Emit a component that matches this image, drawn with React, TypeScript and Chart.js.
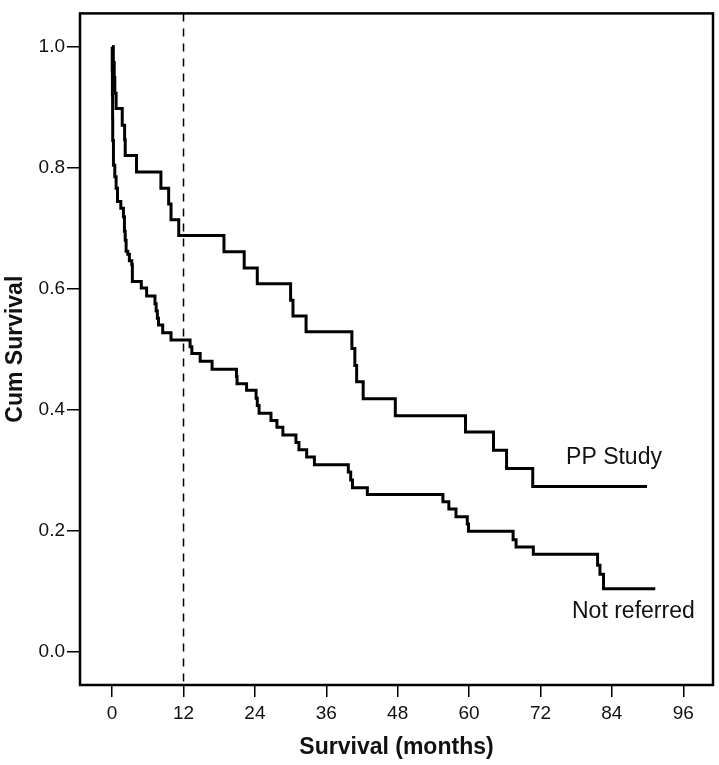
import React, { useEffect, useRef } from 'react';
import { Chart, registerables } from 'chart.js';

Chart.register(...registerables);

// Kaplan-Meier estimates
const ppMonths = [0, 0.2, 0.35, 0.45, 0.67, 1.7, 2.1, 2.2, 4.1, 8.2, 9.5, 9.9, 11.2, 18.8, 22.2, 24.4, 30.0, 30.4, 32.6, 40.3, 40.8, 41.1, 42.2, 47.6, 59.4, 64.1, 66.3, 70.7, 89.9];
const ppSurvival = [1.0, 0.974, 0.949, 0.923, 0.898, 0.870, 0.846, 0.820, 0.793, 0.766, 0.740, 0.714, 0.688, 0.661, 0.634, 0.608, 0.581, 0.555, 0.529, 0.501, 0.473, 0.446, 0.418, 0.390, 0.363, 0.333, 0.303, 0.273, 0.273];

const nrMonths = [0, 0.02, 0.05, 0.08, 0.1, 0.22, 0.45, 0.67, 0.9, 1.46, 1.9, 2.07, 2.2, 2.35, 2.63, 2.9, 3.3, 3.4, 4.9, 5.8, 7.2, 7.4, 7.6, 7.8, 8.5, 9.9, 13.1, 13.4, 14.8, 16.8, 20.9, 21.0, 22.6, 24.2, 24.4, 24.7, 26.7, 27.7, 28.7, 30.9, 31.4, 32.7, 34.0, 39.7, 40.1, 40.4, 42.9, 55.6, 56.6, 57.8, 59.7, 59.9, 67.4, 67.9, 70.8, 81.6, 82.0, 82.6, 91.3];
const nrSurvival = [1.0, 0.96, 0.92, 0.88, 0.845, 0.804, 0.785, 0.766, 0.744, 0.733, 0.719, 0.695, 0.68, 0.662, 0.657, 0.646, 0.640, 0.612, 0.601, 0.588, 0.575, 0.563, 0.551, 0.540, 0.527, 0.515, 0.504, 0.493, 0.480, 0.467, 0.455, 0.443, 0.432, 0.419, 0.407, 0.394, 0.382, 0.371, 0.358, 0.346, 0.334, 0.322, 0.309, 0.297, 0.284, 0.271, 0.260, 0.248, 0.236, 0.223, 0.211, 0.199, 0.185, 0.173, 0.161, 0.143, 0.128, 0.104, 0.104];

const seriesNames = ['PP Study', 'Not referred'];
const labelMonths = [76.3, 77.3];
const labelSurvival = [0.31, 0.056];

const xTicks = [0, 12, 24, 36, 48, 60, 72, 84, 96];
const yTicks = [0.0, 0.2, 0.4, 0.6, 0.8, 1.0];
const referenceMonth = 12;

const FONT = '"Liberation Sans", Arial, Helvetica, sans-serif';

const toPoints = (xs: number[], ys: number[]) => xs.map((x, i) => ({ x, y: ys[i] }));

const annotationPlugin = {
  id: 'kmAnnotations',
  beforeDatasetsDraw(chart: any) {
    const { ctx, chartArea, scales } = chart;
    const x = scales.x.getPixelForValue(referenceMonth);
    ctx.save();
    ctx.strokeStyle = '#000';
    ctx.lineWidth = 1.5;
    ctx.setLineDash([8, 7]);
    ctx.beginPath();
    ctx.moveTo(x, chartArea.top);
    ctx.lineTo(x, chartArea.bottom);
    ctx.stroke();
    ctx.restore();
  },
  afterDatasetsDraw(chart: any) {
    const { ctx, chartArea, scales } = chart;
    ctx.save();
    ctx.strokeStyle = '#000';
    ctx.lineWidth = 2.5;
    ctx.strokeRect(chartArea.left, chartArea.top, chartArea.right - chartArea.left, chartArea.bottom - chartArea.top);
    ctx.fillStyle = '#111';
    ctx.font = `23px ${FONT}`;
    ctx.textAlign = 'left';
    ctx.textBaseline = 'alphabetic';
    seriesNames.forEach((name, i) => {
      ctx.fillText(name, scales.x.getPixelForValue(labelMonths[i]), scales.y.getPixelForValue(labelSurvival[i]));
    });
    ctx.restore();
  },
};

export default function App() {
  const canvasRef = useRef<HTMLCanvasElement | null>(null);

  useEffect(() => {
    if (!canvasRef.current) return;
    const chart = new Chart(canvasRef.current, {
      type: 'line',
      data: {
        datasets: [
          {
            label: seriesNames[0],
            data: toPoints(ppMonths, ppSurvival),
            stepped: 'before',
            borderColor: '#000',
            borderWidth: 3,
            pointRadius: 0,
            fill: false,
          },
          {
            label: seriesNames[1],
            data: toPoints(nrMonths, nrSurvival),
            stepped: 'before',
            borderColor: '#000',
            borderWidth: 3,
            pointRadius: 0,
            fill: false,
          },
        ],
      },
      options: {
        animation: false,
        responsive: false,
        devicePixelRatio: 1,
        layout: { padding: { top: 6, right: 6, left: 0, bottom: 0 } },
        plugins: {
          legend: { display: false },
          tooltip: { enabled: false },
        },
        scales: {
          x: {
            type: 'linear',
            min: -5.4,
            max: 101,
            afterBuildTicks: (scale: any) => {
              scale.ticks = xTicks.map((v) => ({ value: v }));
            },
            afterFit: (scale: any) => {
              scale.height = 80;
            },
            grid: {
              display: true,
              drawOnChartArea: false,
              drawTicks: true,
              tickLength: 12,
              color: '#000',
              lineWidth: 1.5,
            },
            border: { display: false },
            ticks: {
              color: '#111',
              font: { family: FONT, size: 19 },
              padding: 5,
              maxRotation: 0,
              autoSkip: false,
              callback: (v: any) => String(v),
            },
            title: {
              display: true,
              text: 'Survival (months)',
              color: '#111',
              font: { family: FONT, size: 23, weight: 'bold' },
              padding: { top: 0, bottom: 3.5 },
            },
          },
          y: {
            type: 'linear',
            min: -0.055,
            max: 1.055,
            afterBuildTicks: (scale: any) => {
              scale.ticks = yTicks.map((v) => ({ value: v }));
            },
            afterFit: (scale: any) => {
              scale.width = 80;
            },
            grid: {
              display: true,
              drawOnChartArea: false,
              drawTicks: true,
              tickLength: 13,
              color: '#000',
              lineWidth: 1.5,
            },
            border: { display: false },
            ticks: {
              color: '#111',
              font: { family: FONT, size: 19 },
              padding: 2,
              autoSkip: false,
              callback: (v: any) => Number(v).toFixed(1),
            },
            title: {
              display: true,
              text: 'Cum Survival',
              color: '#111',
              font: { family: FONT, size: 23, weight: 'bold' },
              padding: { top: 2, bottom: 0 },
            },
          },
        },
      },
      plugins: [annotationPlugin],
    });
    return () => chart.destroy();
  }, []);

  return (
    <div style={{ position: 'absolute', left: 0, top: 0, width: 719, height: 765, background: '#fff' }}>
      <canvas ref={canvasRef} width={719} height={765} style={{ display: 'block' }} />
    </div>
  );
}
